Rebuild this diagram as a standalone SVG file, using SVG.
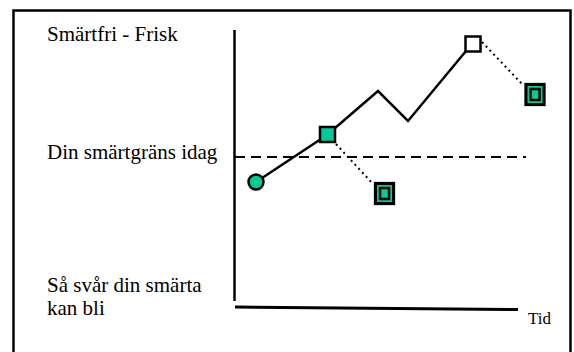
<svg xmlns="http://www.w3.org/2000/svg" width="574" height="352" viewBox="0 0 574 352">
<style>
.lbl{font-family:"Liberation Serif","Times New Roman","DejaVu Serif",serif;font-size:21px;fill:#000}
.small{font-size:17px}
.ax{stroke:#000;stroke-width:2.5;fill:none}
.dot{stroke:#000;stroke-width:2;fill:none;stroke-dasharray:2 3.5}
.g{fill:#00cc99;stroke:#000;stroke-width:2.5}
</style>
<rect width="574" height="352" fill="#fff"/>
<path class="ax" d="M13.5,360 V10.5 H570.5 V360"/>
<g id="labels" font-family="Liberation Serif, Times New Roman, serif">
<text class="lbl" x="47" y="41">Smärtfri - Frisk</text>
<text class="lbl" x="47" y="158.5">Din smärtgräns idag</text>
<text class="lbl" x="47" y="291.5">Så svår din smärta</text>
<text class="lbl" x="47" y="314.5">kan bli</text>
<text class="lbl small" x="528" y="324">Tid</text>
</g>
<g id="axes">
<line class="ax" x1="234.5" y1="30" x2="234.5" y2="301"/>
<line class="ax" x1="235" y1="307" x2="518" y2="309.5" style="stroke-width:3"/>
<line x1="235" y1="157" x2="526" y2="157" stroke="#000" stroke-width="2" stroke-dasharray="10 6"/>
</g>
<g id="connectors">
<polyline class="ax" points="256,182 327,135 378,91 408,121 466,51"/>
<line class="dot" x1="336" y1="144" x2="373" y2="184"/>
<line class="dot" x1="482" y1="42" x2="523" y2="85"/>
</g>
<g id="start"><circle class="g" cx="256" cy="182" r="7.5"/></g>
<g id="sq1"><rect class="g" x="320" y="127" width="15" height="15"/></g>
<g id="sq2"><rect x="465.5" y="36.5" width="15" height="15" fill="#fff" stroke="#000" stroke-width="2.5"/></g>
<g id="dbl1">
<rect x="374" y="182" width="21" height="23" fill="#fff" stroke="#bbb" stroke-width="1"/>
<rect x="375.5" y="183.5" width="18" height="20" fill="#00cc99" stroke="#000" stroke-width="3"/>
<rect x="380" y="188" width="9" height="11" fill="#00cc99" stroke="#000" stroke-width="2.5"/>
</g>
<g id="dbl2">
<rect x="524.5" y="83" width="21" height="23" fill="#fff" stroke="#bbb" stroke-width="1"/>
<rect x="526" y="84.5" width="18" height="20" fill="#00cc99" stroke="#000" stroke-width="3"/>
<rect x="530.5" y="89" width="9" height="11" fill="#00cc99" stroke="#000" stroke-width="2.5"/>
</g>
</svg>
